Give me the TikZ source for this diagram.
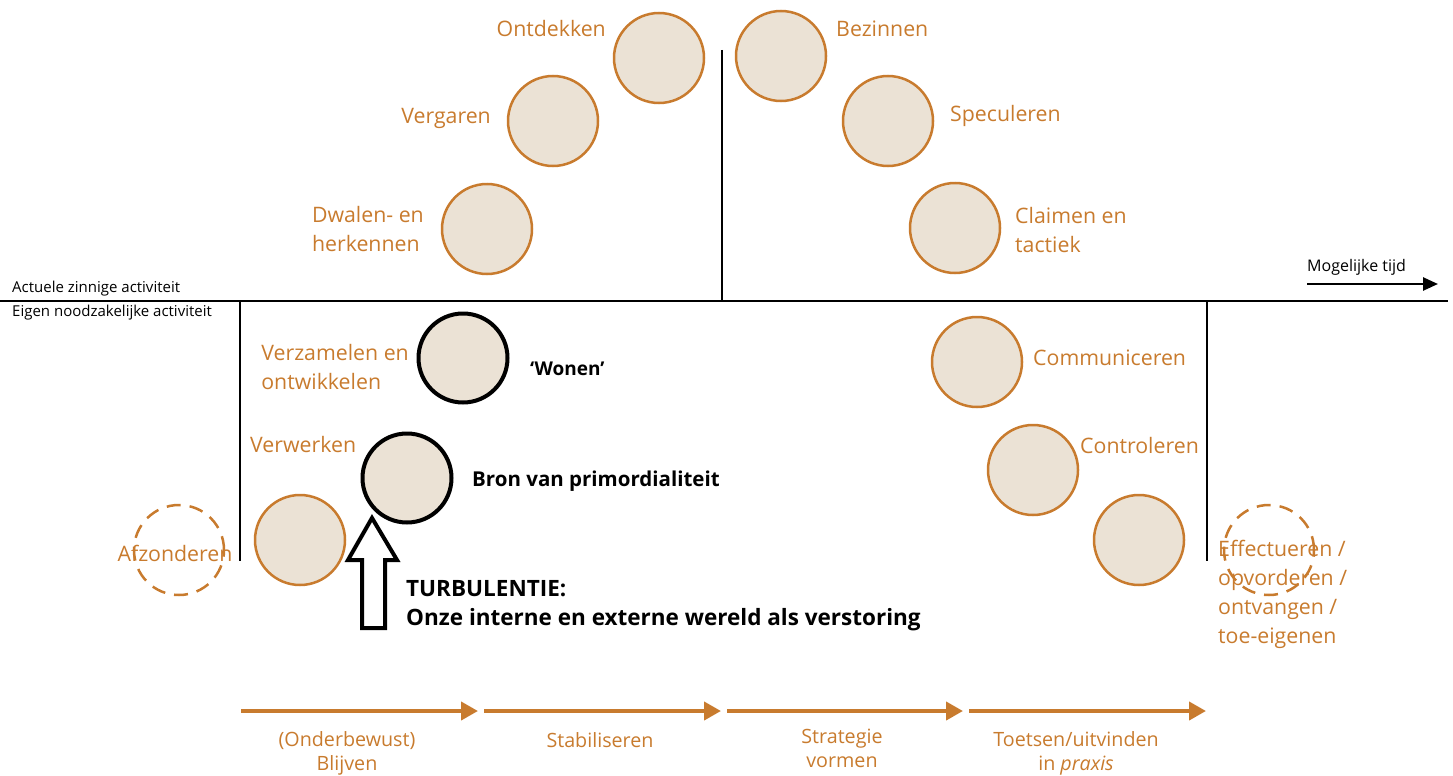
\documentclass[tikz,border=0pt]{standalone}
\usepackage{fontspec}
\setmainfont{Open Sans}
\usetikzlibrary{arrows.meta}
\definecolor{ochre}{HTML}{C87B2E}
\definecolor{sand}{HTML}{EBE2D5}

\tikzset{
  stage/.style={circle, draw=ochre, line width=2.5pt, fill=sand, minimum size=90pt, inner sep=0pt},
  core/.style={circle, draw=black, line width=4pt, fill=sand, minimum size=89pt, inner sep=0pt},
  ghost/.style={circle, draw=ochre, line width=2.5pt, dash pattern=on 14pt off 9pt, minimum size=90pt, inner sep=0pt},
  lbl/.style={text=ochre, font=\fontsize{21.3}{29}\selectfont, inner sep=0pt},
  boldlbl/.style={text=black, font=\bfseries\fontsize{20.5}{29}\selectfont, inner sep=0pt, align=left},
  small/.style={text=black, font=\fontsize{15}{17}\selectfont, inner sep=0pt},
  phase/.style={draw=ochre, line width=4pt, -{Triangle[length=17pt,width=18pt]}},
  bottomlbl/.style={lbl, anchor=north, align=center, font=\fontsize{19.7}{24}\selectfont},
  rule/.style={draw=black, line width=2pt},
}

\begin{document}
\begin{tikzpicture}[x=1pt,y=-1pt]
\useasboundingbox (0,0) rectangle (1453,776);

% axes
\coordinate (hl) at (0,301);
\coordinate (hr) at (1448,301);
\draw[rule] (hl) -- (hr);
\coordinate (mt) at (722,50);
\coordinate (mb) at (722,301);
\draw[rule, line width=1.6pt] (mt) -- (mb);
\coordinate (lt) at (240,301);
\coordinate (lb) at (240,561);
\draw[rule, line width=2.5pt] (lt) -- (lb);
\coordinate (rt) at (1207,301);
\coordinate (rb) at (1207,561);
\draw[rule, line width=2.5pt] (rt) -- (rb);

\node[small, anchor=west] (actuele) at (12,289) {Actuele zinnige activiteit};
\node[small, anchor=west] (eigen) at (12,313) {Eigen noodzakelijke activiteit};

% time arrow
\node[small, anchor=west, font=\fontsize{16}{18}\selectfont] (tijd) at (1307,267) {Mogelijke tijd};
\coordinate (ts) at (1307,284);
\coordinate (te) at (1438,284);
\draw[line width=2.5pt, -{Triangle[length=15pt,width=13pt]}] (ts) -- (te);

% upper arc of circles
\node[stage] (ontdekken) at (659,58) {};
\node[stage] (bezinnen) at (781,56) {};
\node[stage] (vergaren) at (553,121) {};
\node[stage] (speculeren) at (888,121) {};
\node[stage] (dwalen) at (487,229) {};
\node[stage] (claimen) at (955,228) {};

\node[lbl, anchor=east] (tOntdekken) at (606,29) {Ontdekken};
\node[lbl, anchor=west] (tBezinnen) at (836,29) {Bezinnen};
\node[lbl, anchor=east] (tVergaren) at (491,118) {Vergaren};
\node[lbl, anchor=west] (tSpeculeren) at (950,116) {Speculeren};
\node[lbl, anchor=east, align=left] (tDwalen) at (424,229) {Dwalen- en\\herkennen};
\node[lbl, anchor=west, align=left] (tClaimen) at (1015,230) {Claimen en\\tactiek};

% lower part
\node[core] (verzamelen) at (463,358) {};
\node[core] (bron) at (407,478) {};
\node[stage] (verwerken) at (300,540) {};
\node[stage] (communiceren) at (977,362) {};
\node[stage] (controleren) at (1033,470) {};
\node[stage] (effectueren) at (1139,540) {};
\node[ghost] (afz) at (179,550) {};
\node[ghost] (eff) at (1269,550) {};

\node[lbl, anchor=east, align=left] (tVerzamelen) at (409,367) {Verzamelen en\\ontwikkelen};
\node[boldlbl, anchor=west, font=\bfseries\fontsize{19}{24}\selectfont] (tWonen) at (530,369) {‘Wonen’};
\node[lbl, anchor=west] (tVerwerken) at (250,445) {Verwerken};
\node[boldlbl, anchor=west] (tBron) at (472,481) {Bron van primordialiteit};
\node[lbl, anchor=center] (tAfz) at (175,553) {Afzonderen};
\node[lbl, anchor=west] (tComm) at (1033,358) {Communiceren};
\node[lbl, anchor=west] (tContr) at (1080,446) {Controleren};
\node[lbl, anchor=north west, align=left] (tEff) at (1218,540) {Effectueren /\\opvorderen /\\ontvangen /\\toe-eigenen};

% turbulence
\draw[line width=4pt, line join=miter, fill=white]
  (372,518) -- (397,560) -- (385,560) -- (385,628) -- (362,628) -- (362,560) -- (348,560) -- cycle;
\node[boldlbl, anchor=north west, font=\bfseries\fontsize{22.5}{29}\selectfont] (tTurb) at (406,580) {TURBULENTIE:\\Onze interne en externe wereld als verstoring};

% phases along the bottom
\coordinate (p0) at (241,711);
\coordinate (p1) at (478,711);
\coordinate (q0) at (484,711);
\coordinate (q1) at (721,711);
\coordinate (r0) at (727,711);
\coordinate (r1) at (963,711);
\coordinate (s0) at (969,711);
\coordinate (s1) at (1206,711);
\draw[phase] (p0) -- (p1);
\draw[phase] (q0) -- (q1);
\draw[phase] (r0) -- (r1);
\draw[phase] (s0) -- (s1);

\node[bottomlbl] (tBlijven) at (347,731) {(Onderbewust)\\Blijven};
\node[bottomlbl] (tStab) at (600,732) {Stabiliseren};
\node[bottomlbl] (tStrat) at (842,729) {Strategie\\vormen};
\node[bottomlbl] (tToets) at (1076,731) {Toetsen/uitvinden\\in \textit{praxis}};

\end{tikzpicture}
\end{document}
